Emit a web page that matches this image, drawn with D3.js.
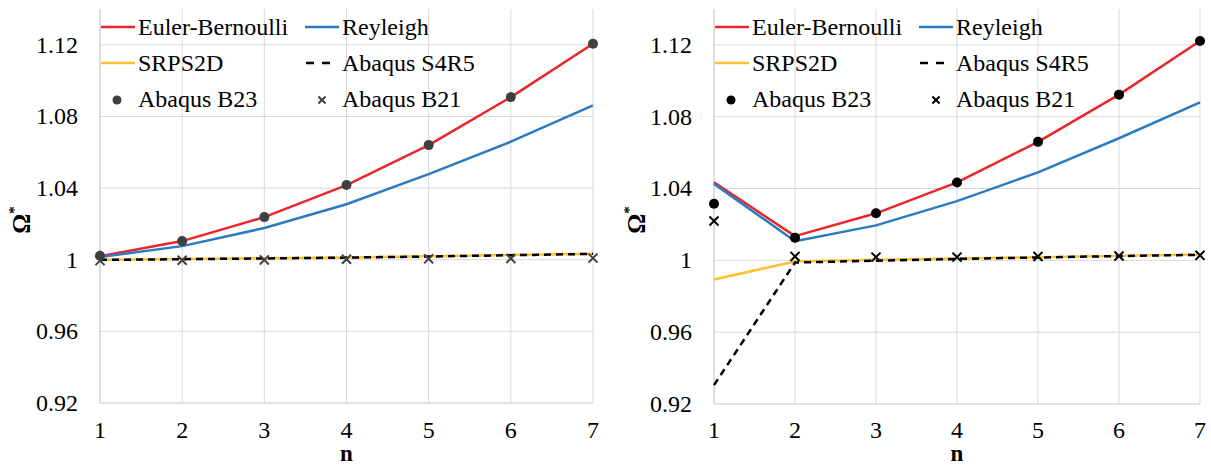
<!DOCTYPE html>
<html><head><meta charset="utf-8">
<script src="https://cdn.jsdelivr.net/npm/d3@7"></script>
<style>
body{margin:0;background:#fff;}
#chart text{font-family:"Liberation Serif", serif;}
</style></head>
<body>
<svg id="chart" width="1211" height="465"></svg>
<script>
const nValues = [1, 2, 3, 4, 5, 6, 7];
const yTicks = [0.92, 0.96, 1.00, 1.04, 1.08, 1.12];
const yTickLabels = ["0.92", "0.96", "1", "1.04", "1.08", "1.12"];
const seriesNames = ["Euler-Bernoulli", "Reyleigh", "SRPS2D", "Abaqus S4R5", "Abaqus B23", "Abaqus B21"];

// Left panel
const eulerL = [1.0020, 1.0104, 1.0238, 1.0417, 1.0640, 1.0908, 1.1206];
const reyL   = [1.0015, 1.0076, 1.0177, 1.0310, 1.0478, 1.0659, 1.0862];
const srpsL  = [1.0000, 1.0004, 1.0008, 1.0013, 1.0019, 1.0026, 1.0034];
const s4r5L  = [0.9999, 1.0003, 1.0007, 1.0012, 1.0018, 1.0025, 1.0033];
const b23L   = [1.0022, 1.0104, 1.0238, 1.0417, 1.0640, 1.0908, 1.1206];
const b21L   = [0.9995, 0.9997, 0.9999, 1.0003, 1.0005, 1.0007, 1.0009];

// Right panel
const eulerR = [1.0435, 1.0135, 1.0262, 1.0434, 1.0660, 1.0923, 1.1222];
const reyR   = [1.0426, 1.0107, 1.0195, 1.0330, 1.0490, 1.0680, 1.0880];
const srpsR  = [0.9893, 0.9994, 1.0003, 1.0011, 1.0018, 1.0025, 1.0032];
const s4r5R  = [0.9305, 0.9988, 0.9998, 1.0008, 1.0016, 1.0024, 1.0031];
const b23R   = [1.0315, 1.0126, 1.0262, 1.0434, 1.0660, 1.0923, 1.1222];
const b21R   = [1.0219, 1.0022, 1.0018, 1.0018, 1.0022, 1.0024, 1.0028];

const svg = d3.select("#chart");

function panel(cfg) {
  const {x0, x1, yTop, yBot, eb, rey, srps, s4r5, b23, b21, markerColor, omegaX} = cfg;
  const g = svg.append("g");
  const x = d3.scaleLinear().domain([1, 7]).range([x0, x1]);
  const y = d3.scaleLinear().domain([0.92, 1.14]).range([yBot, yTop]);

  g.selectAll(".hg").data(yTicks.slice(1)).enter().append("line")
    .attr("x1", x0).attr("x2", x1).attr("y1", d => y(d)).attr("y2", d => y(d))
    .attr("stroke", "#d9d9d9").attr("stroke-width", 1);
  g.selectAll(".vg").data(nValues.slice(1)).enter().append("line")
    .attr("x1", d => x(d)).attr("x2", d => x(d)).attr("y1", yTop).attr("y2", yBot)
    .attr("stroke", "#d9d9d9").attr("stroke-width", 1);
  g.append("line").attr("x1", x0).attr("x2", x0).attr("y1", yTop).attr("y2", yBot)
    .attr("stroke", "#c8c8c8").attr("stroke-width", 1.2);
  g.append("line").attr("x1", x0).attr("x2", x1).attr("y1", yBot).attr("y2", yBot)
    .attr("stroke", "#c8c8c8").attr("stroke-width", 1.2);

  g.selectAll(".yl").data(yTicks).enter().append("text")
    .attr("x", x0 - 22).attr("y", d => y(d)).attr("dy", "0.33em")
    .attr("text-anchor", "end").attr("font-size", 24)
    .text((d, i) => yTickLabels[i]);
  g.selectAll(".xl").data(nValues).enter().append("text")
    .attr("x", d => x(d)).attr("y", 438).attr("text-anchor", "middle")
    .attr("font-size", 24).text(d => d);
  g.append("text").attr("x", (x0 + x1) / 2).attr("y", 461).attr("text-anchor", "middle")
    .attr("font-size", 23).attr("font-weight", "bold").text("n");
  const om = g.append("text")
    .attr("transform", `translate(${omegaX},220) rotate(-90)`)
    .attr("text-anchor", "middle").attr("font-size", 25).attr("font-weight", "bold");
  om.append("tspan").text("Ω");
  om.append("tspan").attr("font-size", 15).attr("dy", -11).text("*");

  const line = d3.line().x((d, i) => x(nValues[i])).y(d => y(d));
  const draw = (data, color, dash) => g.append("path").datum(data).attr("d", line)
    .attr("fill", "none").attr("stroke", color).attr("stroke-width", 2.5)
    .attr("stroke-linejoin", "round")
    .attr("stroke-dasharray", dash || null);
  draw(eb, "#e8262b");
  draw(rey, "#2a7bbf");
  draw(srps, "#fdc02f");
  draw(s4r5, "#000", "7,5");

  g.selectAll(".b23").data(b23).enter().append("circle")
    .attr("cx", (d, i) => x(nValues[i])).attr("cy", d => y(d)).attr("r", 5)
    .attr("fill", markerColor);
  const cross = d3.symbol().type(d3.symbolX).size(55);
  g.selectAll(".b21").data(b21).enter().append("path")
    .attr("transform", (d, i) => `translate(${x(nValues[i])},${y(d)})`)
    .attr("d", cross).attr("fill", "none").attr("stroke", markerColor).attr("stroke-width", 2);

  const c1 = x0 + 1, c2 = x0 + 205;
  const rows = [35, 71, 107];
  const lg = g.append("g");
  lg.append("line").attr("x1", c1).attr("x2", c1 + 34).attr("y1", rows[0] - 8).attr("y2", rows[0] - 8)
    .attr("stroke", "#e8262b").attr("stroke-width", 2.5);
  lg.append("text").attr("x", c1 + 37).attr("y", rows[0]).attr("font-size", 24).text(seriesNames[0]);
  lg.append("line").attr("x1", c2).attr("x2", c2 + 34).attr("y1", rows[0] - 8).attr("y2", rows[0] - 8)
    .attr("stroke", "#2a7bbf").attr("stroke-width", 2.5);
  lg.append("text").attr("x", c2 + 37).attr("y", rows[0]).attr("font-size", 24).text(seriesNames[1]);
  lg.append("line").attr("x1", c1).attr("x2", c1 + 34).attr("y1", rows[1] - 8).attr("y2", rows[1] - 8)
    .attr("stroke", "#fdc02f").attr("stroke-width", 2.5);
  lg.append("text").attr("x", c1 + 37).attr("y", rows[1]).attr("font-size", 24).text(seriesNames[2]);
  lg.append("line").attr("x1", c2 + 1).attr("x2", c2 + 26).attr("y1", rows[1] - 8).attr("y2", rows[1] - 8)
    .attr("stroke", "#000").attr("stroke-width", 2.5).attr("stroke-dasharray", "8,8");
  lg.append("text").attr("x", c2 + 37).attr("y", rows[1]).attr("font-size", 24).text(seriesNames[3]);
  lg.append("circle").attr("cx", c1 + 16).attr("cy", rows[2] - 7).attr("r", 4.5).attr("fill", markerColor);
  lg.append("text").attr("x", c1 + 37).attr("y", rows[2]).attr("font-size", 24).text(seriesNames[4]);
  lg.append("path").attr("transform", `translate(${c2 + 17},${rows[2] - 7})`)
    .attr("d", d3.symbol().type(d3.symbolX).size(35)).attr("fill", "none")
    .attr("stroke", markerColor).attr("stroke-width", 2);
  lg.append("text").attr("x", c2 + 37).attr("y", rows[2]).attr("font-size", 24).text(seriesNames[5]);
}

panel({x0: 100, x1: 593, yTop: 9, yBot: 403, eb: eulerL, rey: reyL, srps: srpsL, s4r5: s4r5L,
       b23: b23L, b21: b21L, markerColor: "#404040", omegaX: 30});
panel({x0: 714, x1: 1200, yTop: 9, yBot: 404, eb: eulerR, rey: reyR, srps: srpsR, s4r5: s4r5R,
       b23: b23R, b21: b21R, markerColor: "#000", omegaX: 645});
</script>
</body></html>
